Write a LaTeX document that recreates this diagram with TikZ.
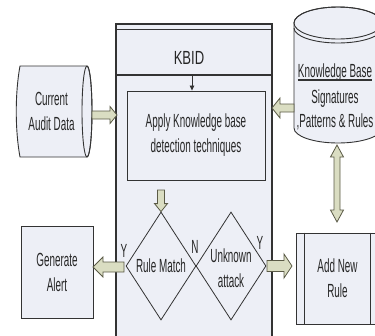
\documentclass[tikz,border=0pt]{standalone}
\usepackage{graphicx}
\usepackage{fontspec}
\setmainfont{Liberation Sans}[FakeStretch=0.52]
\usetikzlibrary{calc,shapes.geometric,arrows.meta}
\definecolor{boxfill}{HTML}{EDEFF6}
\definecolor{linec}{HTML}{333333}
\definecolor{arrfill}{HTML}{DADDC2}
\definecolor{arrline}{HTML}{5A5A46}
\newcommand\blockarr[5]{%
  \coordinate (bah) at ($(#2)!#5!(#1)$);
  \draw[blockarrow] ($(#1)!#3!90:(#2)$) -- ($(bah)!#3!90:(#2)$) -- ($(bah)!#4!90:(#2)$) -- (#2)
    -- ($(bah)!#4!-90:(#2)$) -- ($(bah)!#3!-90:(#2)$) -- ($(#1)!#3!-90:(#2)$) -- cycle;}
\newcommand\dblockarr[5]{%
  \coordinate (bah) at ($(#2)!#5!(#1)$);
  \coordinate (bag) at ($(#1)!#5!(#2)$);
  \draw[blockarrow] (#1) -- ($(bag)!#4!90:(#2)$) -- ($(bag)!#3!90:(#2)$) -- ($(bah)!#3!90:(#2)$)
    -- ($(bah)!#4!90:(#2)$) -- (#2) -- ($(bah)!#4!-90:(#2)$) -- ($(bah)!#3!-90:(#2)$)
    -- ($(bag)!#3!-90:(#2)$) -- ($(bag)!#4!-90:(#2)$) -- cycle;}
\begin{document}
\begin{tikzpicture}[x=1pt,y=-1pt,
  txt/.style={font=\fontsize{19pt}{25pt}\selectfont, align=center, inner sep=0pt, text=black!85},
  box/.style={draw=linec, fill=boxfill, line width=0.9pt, inner sep=0pt, align=center,
              font=\fontsize{19pt}{25pt}\selectfont, text=black!85},
  dia/.style={diamond, draw=linec, line width=0.8pt, minimum width=70pt, minimum height=108pt, inner sep=0pt},
  cyl/.style={draw=linec, fill=boxfill, line width=0.9pt},
  blockarrow/.style={draw=arrline, fill=arrfill, line width=0.8pt, line join=miter}]
\useasboundingbox (0,0) rectangle (375,335);
\clip (0,0) rectangle (375,335);

% KBID container
\draw[draw=linec, fill=boxfill, line width=1.2pt] (116,24) rectangle (272,350);
\draw[linec, line width=1.2pt] (116,29.5) -- (272,29.5);
\draw[linec, line width=2pt] (116,75) -- (272,75);
\node[txt] (kbid) at (189,58) {\fontsize{19pt}{19pt}\selectfont\scalebox{1.32}[1]{KBID}};

% inner box
\node[box, minimum width=138pt, minimum height=89pt] (inner) at (196,135.5)
  {Apply Knowledge base\\detection techniques};
\draw[linec, line width=0.8pt, -{Triangle[length=5pt,width=4.5pt]}] (192,75) -- (inner.north -| 192,0);

% Current Audit Data cylinder
\draw[cyl] (20,66) -- (87,66) arc[start angle=-90,end angle=90,x radius=5,y radius=45.5]
  -- (20,157) .. controls (15,130) and (15,93) .. (20,66) -- cycle;
\draw[linec, line width=0.9pt] (87,111.5) ellipse[x radius=5,y radius=45.5];
\node[txt] (audit) at (51.5,111) {Current\\Audit Data};

% Knowledge base cylinder
\draw[cyl] (294,23) -- (294,128) arc[start angle=180,end angle=0,x radius=44,y radius=15]
  -- (382,23) arc[start angle=0,end angle=-180,x radius=44,y radius=16] -- cycle;
\draw[linec, line width=0.9pt] (338,23) ellipse[x radius=44,y radius=16];
\draw[linec, line width=0.9pt] (294,28) arc[start angle=180,end angle=0,x radius=44,y radius=15];
\node[txt, anchor=base] (kb1) at (335,77) {Knowledge Base};
\draw[linec, line width=1.1pt] ($(kb1.base west)+(0,3)$) -- ($(kb1.base east)+(0,3)$);
\node[txt, anchor=base] (kb2) at (335,103) {Signatures};
\node[txt, anchor=base] (kb3) at (335,127) {,Patterns \& Rules};

% Generate Alert
\node[box, minimum width=72pt, minimum height=92pt] (alert) at (57,272) {Generate\\Alert};

% Add New Rule (predefined process)
\node[box, minimum width=83pt, minimum height=91pt] (anr) at (337.5,278.5) {Add New\\Rule};
\draw[linec, line width=0.9pt] ($(anr.north west)+(9,0)$) -- ($(anr.south west)+(9,0)$);
\draw[linec, line width=0.9pt] ($(anr.north east)+(-9,0)$) -- ($(anr.south east)+(-9,0)$);

% decisions
\node[dia] (rm) at (161,266) {};
\node[dia] (ua) at (231,266) {};
\node[txt] (rmt) at (161,265.5) {Rule Match};
\node[txt] (uat) at (231,268) {Unknown\\attack};

% labels
\node[txt] (ly1) at (124,251) {Y};
\node[txt] (ln) at (195,247) {N};
\node[txt] (ly2) at (260,243) {Y};

% block arrows
\coordinate (a1s) at (92,115);  \coordinate (a1e) at (117,115);
\blockarr{a1s}{a1e}{4pt}{8.5pt}{7pt}
\coordinate (a2s) at (294,108); \coordinate (a2e) at (272,108);
\blockarr{a2s}{a2e}{4pt}{10pt}{8pt}
\coordinate (a3s) at (161,190);
\blockarr{a3s}{rm.north}{3.5pt}{6.5pt}{8pt}
\coordinate (a4s) at (124,267); \coordinate (a4e) at (93,267);
\blockarr{a4s}{a4e}{5pt}{10pt}{10pt}
\coordinate (a5s) at (267,266); \coordinate (a5e) at (292,266);
\blockarr{a5s}{a5e}{5.5pt}{12pt}{8pt}
\coordinate (a6s) at (337,145); \coordinate (a6e) at (337,222);
\dblockarr{a6s}{a6e}{3pt}{6.5pt}{12pt}
\end{tikzpicture}
\end{document}
